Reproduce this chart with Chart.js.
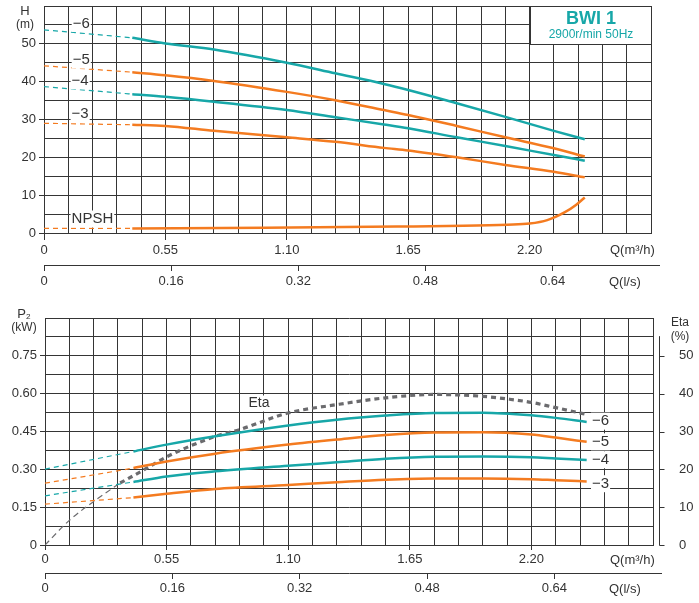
<!DOCTYPE html>
<html>
<head>
<meta charset="utf-8">
<script src="https://cdn.jsdelivr.net/npm/chart.js@4.4.0/dist/chart.umd.min.js"></script>
<style>
  html, body { margin: 0; padding: 0; background: #fff; }
  #wrap { position: relative; width: 699px; height: 603px; }
  #headChart { position: absolute; left: 0; top: 0; }
  #powerChart { position: absolute; left: 0; top: 290px; }
</style>
</head>
<body>
<div id="wrap">
  <canvas id="headChart" width="699" height="290"></canvas>
  <canvas id="powerChart" width="699" height="313"></canvas>
</div>
<script>
const TEAL = '#17a7a8';
const ORANGE = '#f47b20';
const GREY = '#6b6b6e';
const GRID = '#353535';
const NONE = 'rgba(0,0,0,0)';

// flow Q (m3/h): dashed lead-in and the solid part of the curves
const qLead = [0, 0.4];
const qHead = [0.4, 0.55, 0.77, 1.10, 1.32, 1.54, 1.65, 1.87, 2.09, 2.31, 2.45];

// head H (m)
const head6Lead = [53.7, 51.6];
const head6 = [51.6, 50.1, 48.5, 45.0, 42.2, 39.4, 37.8, 34.3, 30.7, 27.0, 24.8];
const head5Lead = [44.2, 42.5];
const head5 = [42.5, 41.7, 40.2, 37.3, 35.1, 32.5, 31.2, 28.3, 25.3, 22.4, 20.2];
const head4Lead = [38.7, 36.7];
const head4 = [36.7, 36.0, 34.7, 32.5, 30.6, 28.7, 27.7, 25.3, 23.0, 20.6, 19.1];
const head3Lead = [29.0, 28.6];
const head3 = [28.6, 28.3, 27.0, 25.3, 24.1, 22.5, 21.8, 20.0, 18.0, 16.2, 14.7];

// NPSH (m)
const npshLead = [1.2, 1.2];
const qNpsh = [0.4, 1.0, 1.6, 1.9, 2.1, 2.2, 2.28, 2.36, 2.41, 2.45];
const npsh = [1.2, 1.4, 1.7, 1.9, 2.2, 2.5, 3.4, 5.5, 7.4, 9.4];

// power P2 (kW)
const qPower = [0.4, 0.55, 0.77, 1.10, 1.32, 1.54, 1.76, 1.98, 2.20, 2.31, 2.45];
const power6Lead = [0.301, 0.371];
const power6 = [0.371, 0.398, 0.431, 0.474, 0.497, 0.513, 0.523, 0.524, 0.514, 0.504, 0.488];
const power5Lead = [0.245, 0.305];
const power5 = [0.305, 0.331, 0.362, 0.398, 0.418, 0.436, 0.446, 0.447, 0.438, 0.426, 0.409];
const power4Lead = [0.195, 0.25];
const power4 = [0.25, 0.272, 0.292, 0.314, 0.328, 0.342, 0.350, 0.351, 0.348, 0.343, 0.337];
const power3Lead = [0.162, 0.188];
const power3 = [0.188, 0.203, 0.222, 0.238, 0.249, 0.259, 0.264, 0.264, 0.261, 0.257, 0.252];

// efficiency Eta (%)
const qEtaLead = [0, 0.11, 0.23, 0.34];
const etaLead = [0, 6.5, 11.9, 16.4];
const qEta = [0.34, 0.44, 0.55, 0.77, 0.88, 1.10, 1.32, 1.54, 1.76, 1.98, 2.09, 2.20, 2.31, 2.45];
const eta = [16.4, 19.6, 23.3, 28.7, 30.5, 34.9, 37.1, 38.9, 39.8, 39.3, 38.6, 37.7, 36.3, 34.5];

const Q_MAX = 2.75;
const QLS_TICKS = [0, 0.16, 0.32, 0.48, 0.64];

Chart.defaults.font.family = '"Liberation Sans", Arial, sans-serif';
Chart.defaults.font.size = 13;
Chart.defaults.color = '#333';

const pts = (xs, ys) => xs.map((x, i) => ({ x, y: ys[i] }));

function solid(xs, ys, color, axis) {
  return { data: pts(xs, ys), borderColor: color, borderWidth: 2.5, pointRadius: 0,
    cubicInterpolationMode: 'monotone', yAxisID: axis || 'y' };
}
function lead(xs, ys, color, axis) {
  return { data: pts(xs, ys), borderColor: color, borderWidth: 1.2, borderDash: [5, 4],
    pointRadius: 0, cubicInterpolationMode: 'monotone', yAxisID: axis || 'y' };
}

const isMajorQ = v => Math.abs(v / 0.55 - Math.round(v / 0.55)) < 1e-6 && v < Q_MAX - 0.01;
const qLabel = v => isMajorQ(v) ? (v === 0 ? '0' : v.toFixed(2)) : '';

function qScales(tickLen, pad, h1, h2) {
  return {
    x: {
      type: 'linear', min: 0, max: Q_MAX,
      ticks: { stepSize: 0.11, autoSkip: false, maxRotation: 0, padding: pad, callback: qLabel },
      grid: { color: GRID, tickLength: tickLen, tickColor: c => isMajorQ(c.tick.value) ? GRID : NONE },
      border: { color: GRID },
      afterFit: s => { s.height = h1; s.paddingLeft = 0; s.paddingRight = 0; }
    },
    x2: {
      type: 'linear', position: 'bottom', weight: 1, min: 0, max: Q_MAX / 3.6,
      afterBuildTicks: s => { s.ticks = QLS_TICKS.map(value => ({ value })); },
      ticks: { autoSkip: false, maxRotation: 0, padding: pad, callback: v => v === 0 ? '0' : v.toFixed(2) },
      grid: { drawOnChartArea: false, color: GRID, tickLength: 6 },
      border: { color: GRID },
      afterFit: s => { s.height = h2; s.paddingLeft = 0; s.paddingRight = 0; }
    }
  };
}

function tag(ctx, text, px, py, size, align) {
  ctx.font = size + 'px "Liberation Sans", Arial, sans-serif';
  ctx.textAlign = align || 'left';
  ctx.textBaseline = 'middle';
  const w = ctx.measureText(text).width;
  const left = align === 'center' ? px - w / 2 : px;
  ctx.fillStyle = '#fff';
  ctx.fillRect(left - 1, py - size / 2 - 1, w + 2, size + 2);
  ctx.fillStyle = '#333';
  ctx.fillText(text, px, py);
}

function plainText(ctx, text, px, py, size, align, color, bold) {
  ctx.font = (bold ? 'bold ' : '') + size + 'px "Liberation Sans", Arial, sans-serif';
  ctx.textAlign = align || 'left';
  ctx.textBaseline = 'middle';
  ctx.fillStyle = color || '#333';
  ctx.fillText(text, px, py);
}

function axisExtras(ctx, chart) {
  const { x2 } = chart.scales;
  const a = chart.chartArea;
  // stretch the l/s axis line a little past the grid
  ctx.strokeStyle = GRID;
  ctx.lineWidth = 1;
  ctx.beginPath();
  ctx.moveTo(a.right, Math.round(x2.top) + 0.5);
  ctx.lineTo(a.right + 9, Math.round(x2.top) + 0.5);
  ctx.stroke();
  const bottom = chart.canvas.id === 'powerChart';
  plainText(ctx, 'Q(m³/h)', 610, chart.scales.x.top + (bottom ? 15 : 17), 13);
  plainText(ctx, 'Q(l/s)', 609, x2.top + (bottom ? 16 : 17), 13);
}

const headExtras = {
  id: 'headExtras',
  afterDraw(chart) {
    const { ctx, chartArea: a, scales: { x, y } } = chart;
    ctx.save();
    const bx = Math.round(x.getPixelForValue(2.2)) + 0.5;
    const by = Math.round(y.getPixelForValue(50)) + 0.5;
    const top = Math.round(a.top) + 0.5;
    const right = Math.round(a.right) + 0.5;
    ctx.fillStyle = '#fff';
    ctx.fillRect(bx, top, right - bx, by - top);
    ctx.strokeStyle = GRID;
    ctx.lineWidth = 1;
    ctx.strokeRect(bx, top, right - bx, by - top);
    plainText(ctx, 'BWI 1', (bx + right) / 2, 19, 18, 'center', TEAL, true);
    plainText(ctx, '2900r/min 50Hz', (bx + right) / 2, 35, 12, 'center', TEAL);

    tag(ctx, '−6', x.getPixelForValue(0.13), y.getPixelForValue(55.4), 15);
    tag(ctx, '−5', x.getPixelForValue(0.13), y.getPixelForValue(45.7), 15);
    tag(ctx, '−4', x.getPixelForValue(0.125), y.getPixelForValue(40.2), 15);
    tag(ctx, '−3', x.getPixelForValue(0.125), y.getPixelForValue(31.5), 15);
    tag(ctx, 'NPSH', x.getPixelForValue(0.125), y.getPixelForValue(3.7), 15);

    plainText(ctx, 'H', 25, 11, 13, 'center');
    plainText(ctx, '(m)', 25, 25, 12, 'center');
    axisExtras(ctx, chart);
    ctx.restore();
  }
};

const powerExtras = {
  id: 'powerExtras',
  afterDraw(chart) {
    const { ctx, scales: { x, y, y2 } } = chart;
    ctx.save();
    // Eta axis on the right, set apart from the grid
    const ax = 659.5;
    ctx.strokeStyle = GRID;
    ctx.lineWidth = 1;
    ctx.beginPath();
    ctx.moveTo(ax, y2.getPixelForValue(55.2));
    ctx.lineTo(ax, Math.round(y2.getPixelForValue(0)) + 0.5);
    for (let v = 0; v <= 50; v += 10) {
      const py = Math.round(y2.getPixelForValue(v)) + 0.5;
      ctx.moveTo(ax, py);
      ctx.lineTo(ax + 5, py);
    }
    ctx.stroke();

    tag(ctx, '−6', x.getPixelForValue(2.474), y.getPixelForValue(0.491), 15);
    tag(ctx, '−5', x.getPixelForValue(2.474), y.getPixelForValue(0.409), 15);
    tag(ctx, '−4', x.getPixelForValue(2.474), y.getPixelForValue(0.338), 15);
    tag(ctx, '−3', x.getPixelForValue(2.474), y.getPixelForValue(0.243), 15);
    tag(ctx, 'Eta', x.getPixelForValue(0.968), y.getPixelForValue(0.561), 14, 'center');

    plainText(ctx, 'P₂', 24, 24, 13, 'center');
    plainText(ctx, '(kW)', 24, 38, 12, 'center');
    plainText(ctx, 'Eta', 680, 33, 12, 'center');
    plainText(ctx, '(%)', 680, 47, 12, 'center');
    axisExtras(ctx, chart);
    ctx.restore();
  }
};

new Chart(document.getElementById('headChart'), {
  type: 'line',
  data: {
    datasets: [
      lead(qLead, head6Lead, TEAL), solid(qHead, head6, TEAL),
      lead(qLead, head5Lead, ORANGE), solid(qHead, head5, ORANGE),
      lead(qLead, head4Lead, TEAL), solid(qHead, head4, TEAL),
      lead(qLead, head3Lead, ORANGE), solid(qHead, head3, ORANGE),
      lead(qLead, npshLead, ORANGE), solid(qNpsh, npsh, ORANGE)
    ]
  },
  options: {
    responsive: false,
    animation: false,
    layout: { padding: { top: 6, right: 48, left: 0, bottom: 0 } },
    plugins: { legend: { display: false }, tooltip: { enabled: false } },
    scales: {
      ...qScales(7, 3, 32, 25),
      y: {
        min: 0, max: 60,
        ticks: { stepSize: 5, autoSkip: false, padding: 3,
          callback: v => (v % 10 === 0 && v < 60) ? String(v) : '' },
        grid: { color: GRID, tickLength: 5,
          tickColor: c => (c.tick.value % 10 === 0 && c.tick.value < 60) ? GRID : NONE },
        border: { color: GRID },
        afterFit: s => { s.width = 44; s.paddingTop = 0; s.paddingBottom = 0; }
      }
    }
  },
  plugins: [headExtras]
});

new Chart(document.getElementById('powerChart'), {
  type: 'line',
  data: {
    datasets: [
      lead(qLead, power6Lead, TEAL), solid(qPower, power6, TEAL),
      lead(qLead, power5Lead, ORANGE), solid(qPower, power5, ORANGE),
      lead(qLead, power4Lead, TEAL), solid(qPower, power4, TEAL),
      lead(qLead, power3Lead, ORANGE), solid(qPower, power3, ORANGE),
      { ...lead(qEtaLead, etaLead, GREY, 'y2'), borderDash: [6, 4] },
      { ...solid(qEta, eta, GREY, 'y2'), borderWidth: 3.2, borderDash: [5, 4] }
    ]
  },
  options: {
    responsive: false,
    animation: false,
    layout: { padding: { top: 28, right: 0, left: 0, bottom: 0 } },
    plugins: { legend: { display: false }, tooltip: { enabled: false } },
    scales: {
      ...qScales(5, 2, 28, 30),
      y: {
        min: 0, max: 0.9,
        ticks: { stepSize: 0.075, autoSkip: false, padding: 3,
          callback: (v, i) => (i % 2 === 0 && v < 0.89) ? (v === 0 ? '0' : v.toFixed(2)) : '' },
        grid: { color: GRID, tickLength: 5,
          tickColor: c => (c.index % 2 === 0 && c.tick.value < 0.89) ? GRID : NONE },
        border: { color: GRID },
        afterFit: s => { s.width = 45; s.paddingTop = 0; s.paddingBottom = 0; }
      },
      y2: {
        position: 'right', min: 0, max: 60,
        ticks: { stepSize: 10, padding: 18, callback: v => v < 60 ? String(v) : '' },
        grid: { display: false },
        border: { display: false },
        afterFit: s => { s.width = 46; s.paddingTop = 0; s.paddingBottom = 0; }
      }
    }
  },
  plugins: [powerExtras]
});
</script>
</body>
</html>
